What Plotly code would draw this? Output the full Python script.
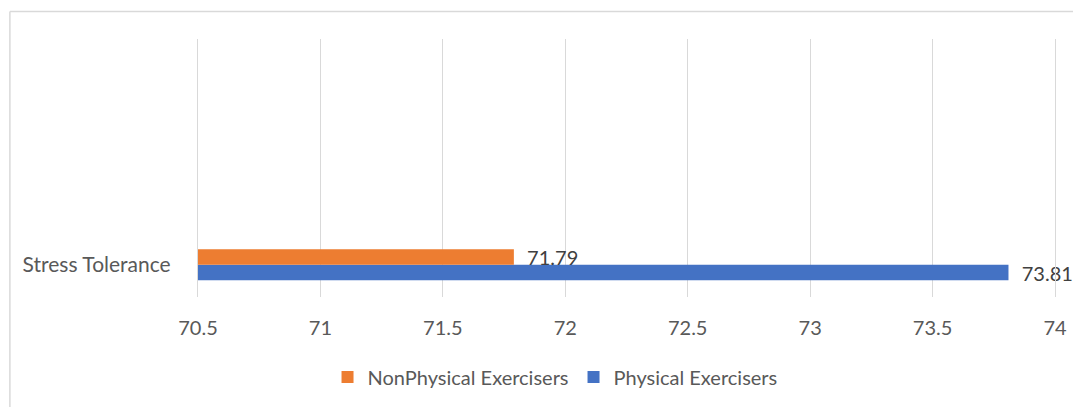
import plotly.graph_objects as go

categories = ["Stress Tolerance"]
series_names = ["NonPhysical Exercisers", "Physical Exercisers"]
nonphysical = [71.79]
physical = [73.81]
x_ticks = [70.5, 71, 71.5, 72, 72.5, 73, 73.5, 74]
x_ticktext = ["70.5", "71", "71.5", "72", "72.5", "73", "73.5", "74"]

FONT = "Lato"
TICK = "#595959"
LABEL = "#404040"
GRID = "#d9d9d9"

fig = go.Figure()
# blue first so it sits lower in the group (orange on top)
fig.add_trace(go.Bar(
    y=categories, x=physical, orientation="h", name=series_names[1],
    marker=dict(color="#4472C4", line=dict(width=0)),
    texttemplate="\u00a0\u00a0%{x:.2f}", textposition="outside", cliponaxis=False,
    constraintext="none",
    textfont=dict(family=FONT, size=20, color=LABEL), legendrank=2,
))
fig.add_trace(go.Bar(
    y=categories, x=nonphysical, orientation="h", name=series_names[0],
    marker=dict(color="#ED7D31", line=dict(width=0)),
    texttemplate="\u00a0\u00a0%{x:.2f}", textposition="outside", cliponaxis=False,
    constraintext="none",
    textfont=dict(family=FONT, size=20, color=LABEL), legendrank=1,
))

fig.update_layout(
    width=1081, height=407,
    margin=dict(l=190, r=34, t=31, b=118),
    paper_bgcolor="white", plot_bgcolor="white",
    barmode="group", bargap=0.5, bargroupgap=0,
    font=dict(family=FONT, size=20, color=TICK),
    showlegend=True,
    legend=dict(orientation="h", x=0.4166, xanchor="center", y=-0.31, yanchor="middle",
                font=dict(family=FONT, size=20, color=TICK), bgcolor="rgba(0,0,0,0)"),
    xaxis=dict(range=[70.5, 74], tickvals=x_ticks, ticktext=x_ticktext,
               showgrid=True, gridcolor=GRID, gridwidth=1.3,
               zeroline=False, showline=False, ticks="", ticklabelstandoff=17,
               tickfont=dict(family=FONT, size=20, color=TICK)),
    yaxis=dict(type="category", range=[-0.52, 3.64], showgrid=False, zeroline=False,
               showline=True, mirror=True, linecolor=GRID, linewidth=1.3,
               ticks="", ticklabelstandoff=22,
               tickfont=dict(family=FONT, size=21, color=TICK)),
    shapes=[
        dict(type="line", xref="paper", yref="paper", x0=-0.2195, x1=1.2, y0=1.1066, y1=1.1066,
             line=dict(color=GRID, width=1.5)),
        dict(type="line", xref="paper", yref="paper", x0=-0.2195, x1=-0.2195, y0=1.1066, y1=-0.6,
             line=dict(color=GRID, width=1.5)),
    ],
)

fig.write_html("out.html")
